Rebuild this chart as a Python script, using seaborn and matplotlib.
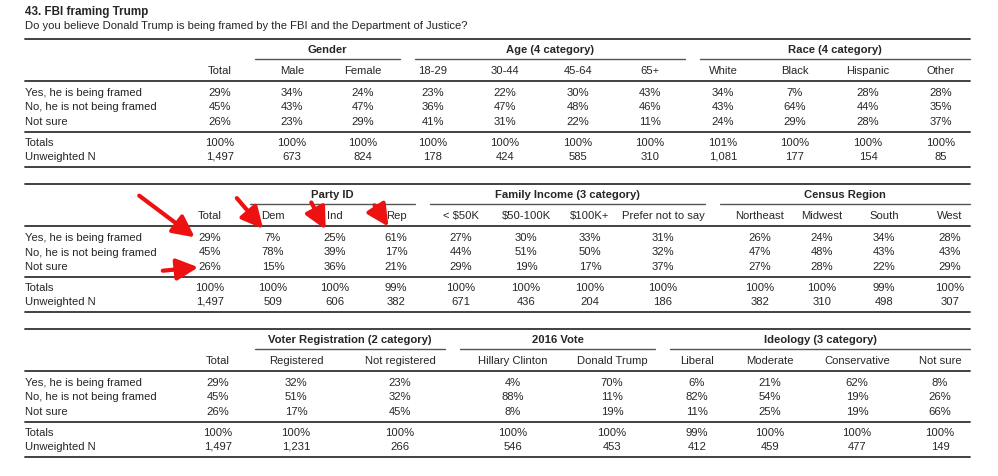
import matplotlib
matplotlib.use("Agg")
import matplotlib.pyplot as plt
import seaborn as sns

sns.set_style("white")
plt.rcParams['font.family'] = ['Liberation Sans', 'DejaVu Sans']

titulo = "43. FBI framing Trump"
pregunta = "Do you believe Donald Trump is being framed by the FBI and the Department of Justice?"
filas = ["Yes, he is being framed", "No, he is not being framed", "Not sure"]

# Tabla 1
t1_grupos = [("Gender", 255, 400), ("Age (4 category)", 415, 685), ("Race (4 category)", 700, 970)]
t1_cols = ["Total", "Male", "Female", "18-29", "30-44", "45-64", "65+", "White", "Black", "Hispanic", "Other"]
t1_x = [220, 292, 363, 433, 505, 578, 650, 723, 795, 868, 941]
t1_vals = [["29%", "34%", "24%", "23%", "22%", "30%", "43%", "34%", "7%", "28%", "28%"],
           ["45%", "43%", "47%", "36%", "47%", "48%", "46%", "43%", "64%", "44%", "35%"],
           ["26%", "23%", "29%", "41%", "31%", "22%", "11%", "24%", "29%", "28%", "37%"]]
t1_tot = ["100%", "100%", "100%", "100%", "100%", "100%", "100%", "101%", "100%", "100%", "100%"]
t1_n = ["1,497", "673", "824", "178", "424", "585", "310", "1,081", "177", "154", "85"]

# Tabla 2
t2_grupos = [("Party ID", 250, 415), ("Family Income (3 category)", 430, 705), ("Census Region", 720, 970)]
t2_cols = ["Total", "Dem", "Ind", "Rep", "< $50K", "$50-100K", "$100K+", "Prefer not to say",
           "Northeast", "Midwest", "South", "West"]
t2_x = [210, 273, 335, 396, 461, 526, 590, 663, 760, 822, 884, 950]
t2_vals = [["29%", "7%", "25%", "61%", "27%", "30%", "33%", "31%", "26%", "24%", "34%", "28%"],
           ["45%", "78%", "39%", "17%", "44%", "51%", "50%", "32%", "47%", "48%", "43%", "43%"],
           ["26%", "15%", "36%", "21%", "29%", "19%", "17%", "37%", "27%", "28%", "22%", "29%"]]
t2_tot = ["100%", "100%", "100%", "99%", "100%", "100%", "100%", "100%", "100%", "100%", "99%", "100%"]
t2_n = ["1,497", "509", "606", "382", "671", "436", "204", "186", "382", "310", "498", "307"]

# Tabla 3
t3_grupos = [("Voter Registration (2 category)", 255, 445), ("2016 Vote", 460, 655), ("Ideology (3 category)", 670, 970)]
t3_cols = ["Total", "Registered", "Not registered", "Hillary Clinton", "Donald Trump",
           "Liberal", "Moderate", "Conservative", "Not sure"]
t3_x = [218, 296, 400, 513, 612, 697, 770, 857, 940]
t3_vals = [["29%", "32%", "23%", "4%", "70%", "6%", "21%", "62%", "8%"],
           ["45%", "51%", "32%", "88%", "11%", "82%", "54%", "19%", "26%"],
           ["26%", "17%", "45%", "8%", "19%", "11%", "25%", "19%", "66%"]]
t3_tot = ["100%", "100%", "100%", "100%", "100%", "99%", "100%", "100%", "100%"]
t3_n = ["1,497", "1,231", "266", "546", "453", "412", "459", "477", "149"]

flechas = [((137, 195), (197, 240)), ((235, 197), (265, 232)), ((310, 201), (327, 233)),
           ((373, 204), (390, 230)), ((160, 272), (201, 268))]

fig = plt.figure(figsize=(9.98, 4.77), dpi=100)
ax = fig.add_axes([0, 0, 1, 1])
ax.set_xlim(0, 998)
ax.set_ylim(477, 0)
ax.axis("off")

fs = 8.1
ax.text(25, 12, titulo, fontsize=8.4, fontweight="bold", va="center")
ax.text(25, 26, pregunta, fontsize=fs, va="center")


def tabla(y0, grupos, cols, xs, vals, tot, n):
    lc = "#333333"
    ax.plot([25, 970], [y0, y0], color=lc, lw=1.3)
    for nombre, a, b in grupos:
        ax.text((a + b) / 2, y0 + 10, nombre, fontsize=fs, fontweight="bold", ha="center", va="center")
        ax.plot([a, b], [y0 + 20, y0 + 20], color="#555555", lw=1.0)
    for c, x in zip(cols, xs):
        ax.text(x, y0 + 31, c, fontsize=fs, ha="center", va="center")
    ax.plot([25, 970], [y0 + 42, y0 + 42], color=lc, lw=1.3)
    for i, f in enumerate(filas):
        y = y0 + 53 + i * 14.5
        ax.text(25, y, f, fontsize=fs, va="center")
        for v, x in zip(vals[i], xs):
            ax.text(x, y, v, fontsize=fs, ha="center", va="center")
    ax.plot([25, 970], [y0 + 93, y0 + 93], color=lc, lw=1.3)
    ax.text(25, y0 + 103, "Totals", fontsize=fs, va="center")
    ax.text(25, y0 + 117, "Unweighted N", fontsize=fs, va="center")
    for t, m, x in zip(tot, n, xs):
        ax.text(x, y0 + 103, t, fontsize=fs, ha="center", va="center")
        ax.text(x, y0 + 117, m, fontsize=fs, ha="center", va="center")
    ax.plot([25, 970], [y0 + 128, y0 + 128], color=lc, lw=1.3)


tabla(40, t1_grupos, t1_cols, t1_x, t1_vals, t1_tot, t1_n)
tabla(185, t2_grupos, t2_cols, t2_x, t2_vals, t2_tot, t2_n)
tabla(330, t3_grupos, t3_cols, t3_x, t3_vals, t3_tot, t3_n)

for (xa, ya), (xb, yb) in flechas:
    ax.annotate("", xy=(xb, yb), xytext=(xa, ya),
                arrowprops=dict(arrowstyle="-|>,head_length=1.3,head_width=0.65",
                                color="#ee1111", lw=3))

fig.savefig("out.png", dpi=100)
